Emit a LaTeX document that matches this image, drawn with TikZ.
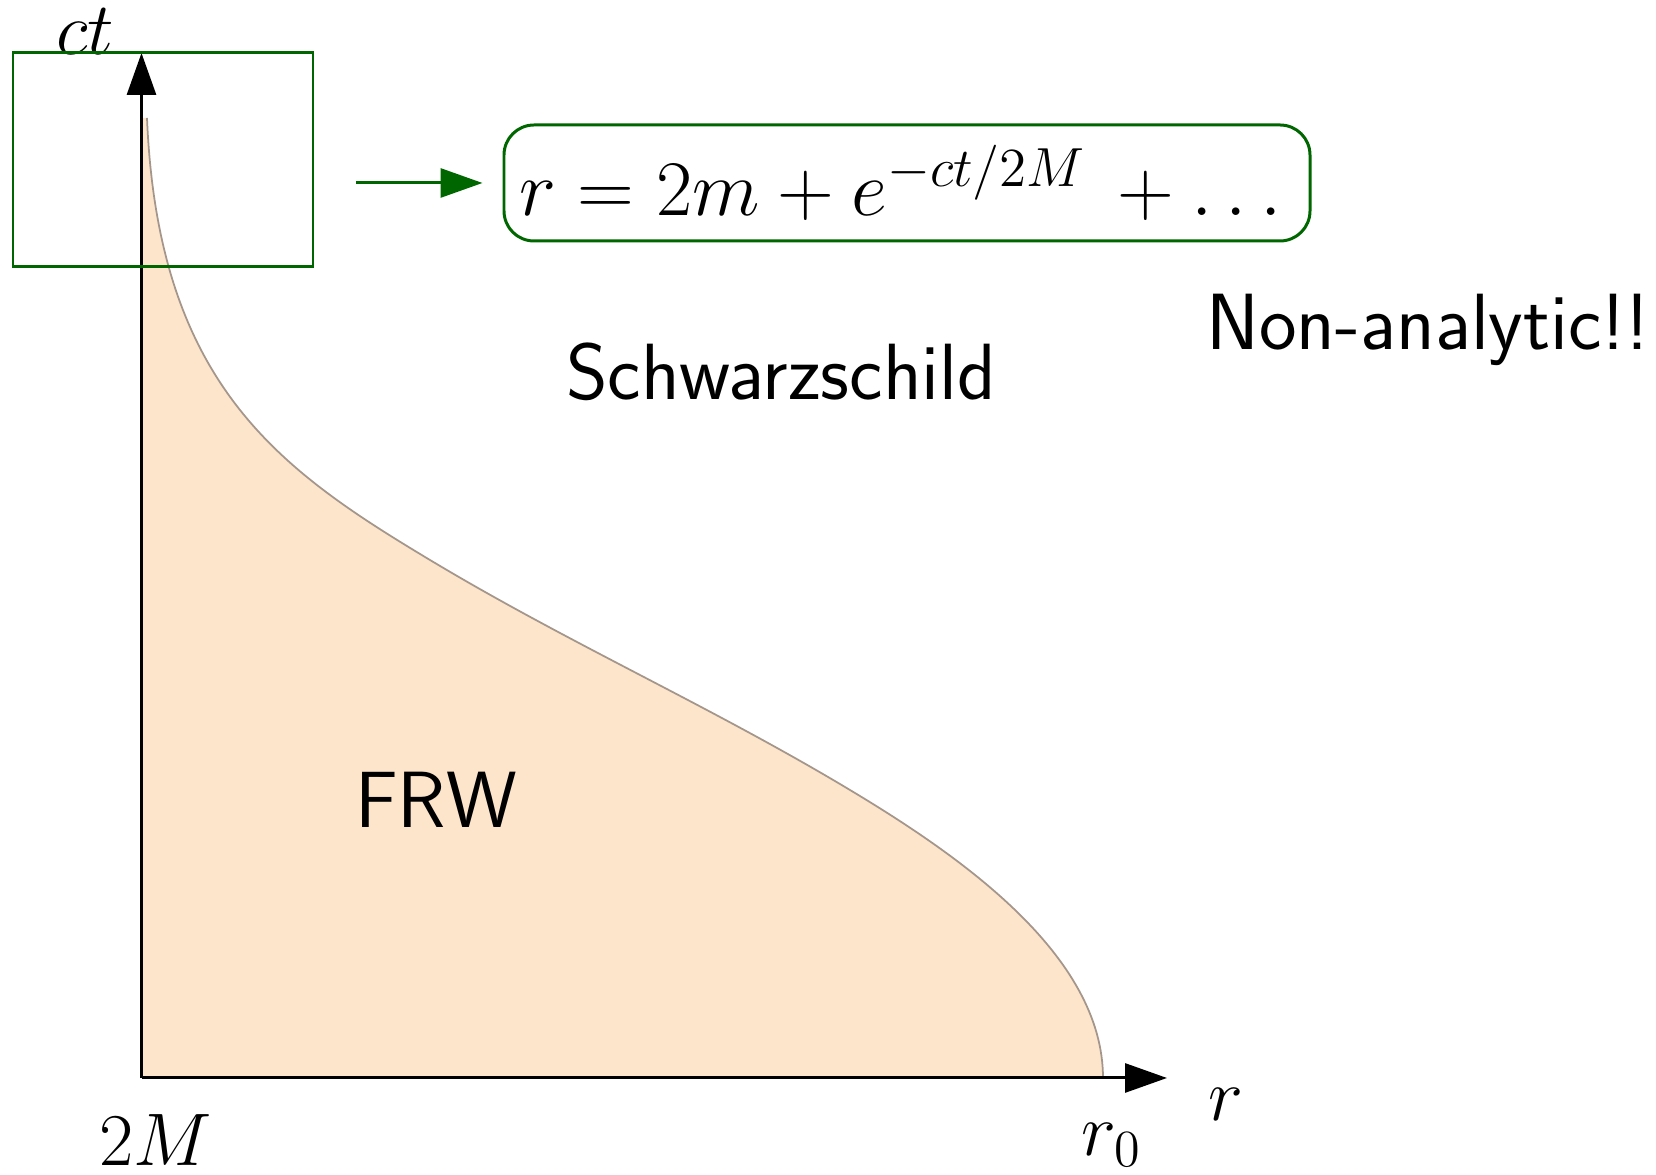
\RequirePackage{fix-cm}
\documentclass[tikz,border=0pt]{standalone}
\usepackage{amsmath,amssymb}
\usetikzlibrary{arrows.meta,positioning,calc}
\definecolor{frwfill}{RGB}{253,229,204}
\definecolor{frwline}{RGB}{165,150,140}
\definecolor{boxgreen}{RGB}{0,102,0}

\begin{document}
\begin{tikzpicture}[
    axis/.style={line width=0.85pt, -{Triangle[length=4.2mm, width=2.9mm]}},
    grn/.style={draw=boxgreen, line width=0.85pt},
    lab/.style={font=\fontsize{21.2}{26}\selectfont, inner sep=0pt},
    txt/.style={font=\fontsize{22.7}{27}\selectfont\sffamily, inner sep=0pt},
  ]
  \useasboundingbox (0,0) rectangle (16.56,11.75);

  %% FRW region
  \coordinate (O) at (1.415,0.97);
  \coordinate (ttop) at (1.415,11.22);
  \coordinate (rend) at (11.67,0.97);
  \coordinate (ctop) at (1.47,10.57);
  \coordinate (cmid) at (4.30,6.15);
  \coordinate (cknee) at (8.50,3.85);
  \coordinate (rzero0) at (11.03,0.97);
  \fill[frwfill] (O) -- (1.415,10.57) -- (ctop)
    .. controls (1.58,7.9) and (2.8,7.05) .. (cmid)
    .. controls (5.7,5.31) and (7.1,4.69) .. (cknee)
    .. controls (9.6,3.19) and (11.03,2.2) .. (rzero0) -- cycle;
  \draw[frwline, line width=0.5pt] (ctop)
    .. controls (1.58,7.9) and (2.8,7.05) .. (cmid)
    .. controls (5.7,5.31) and (7.1,4.69) .. (cknee)
    .. controls (9.6,3.19) and (11.03,2.2) .. (rzero0);

  %% Axes
  \draw[axis] (O) -- (ttop);
  \draw[axis] (O) -- (rend);
  \node[lab] (ctlab) at (0.85,11.43) {$ct$};
  \node[lab] (rlab) at (12.26,0.71) {$r$};
  \node[lab] (twoM) at (1.56,0.35) {$2M$};
  \node[lab] (rzero) at (11.12,0.30) {$r_0$};

  %% Regions
  \node[txt] (frw) at (4.36,3.75) {FRW};
  \node[txt] (schw) at (7.81,8.03) {Schwarzschild};
  \node[txt] (nonan) at (14.28,8.45) {Non-analytic!!};

  %% Zoom window and expansion
  \node[grn, minimum width=3.0cm, minimum height=2.14cm] (zoomwin) at (1.63,10.15) {};
  \node[grn, rounded corners=0.3cm, inner sep=0.05cm, minimum width=8.06cm, minimum height=1.16cm,
        font=\fontsize{22.4}{27}\selectfont] (eqbox) at (9.07,9.92) {$r = 2m + e^{-ct/2M}\, + \dots$};
  \coordinate (astart) at ($(zoomwin.east |- eqbox.west)+(0.42,0)$);
  \draw[grn, -{Triangle[length=4.2mm, width=2.9mm]}] (astart) -- ([xshift=-2mm]eqbox.west);
\end{tikzpicture}
\end{document}
